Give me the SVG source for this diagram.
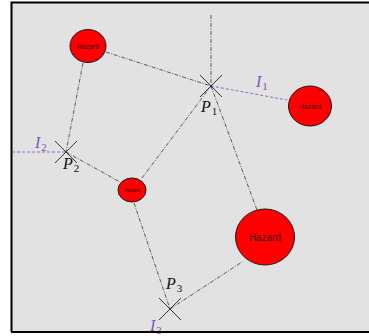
<svg xmlns="http://www.w3.org/2000/svg" width="369" height="336" viewBox="0 0 369 336">
<style>
.hz{fill:#ff0000;stroke:#1a1a1a;stroke-width:1}
.ht{font-family:"Liberation Sans",Arial,sans-serif;fill:#300;text-anchor:middle}
.ln{stroke:#333;stroke-width:0.8;fill:none;stroke-dasharray:4,1.5,1,1.5}
.il{stroke:#8060c0;stroke-width:0.9;fill:none;stroke-dasharray:3,2}
.cr{stroke:#222;stroke-width:0.9}
.pl{font-family:"Liberation Serif","Times New Roman",serif;font-style:italic;fill:#111;font-size:16px}
.plb{font-family:"Liberation Serif","Times New Roman",serif;fill:#111;font-size:11px}
.il-t{font-family:"Liberation Serif","Times New Roman",serif;font-style:italic;fill:#7b55b8;font-size:16px}
.il-s{font-family:"Liberation Serif","Times New Roman",serif;fill:#7b55b8;font-size:11px}
</style>
<rect x="0" y="0" width="369" height="336" fill="#ffffff"/>
<rect x="11" y="2" width="358" height="330" fill="#e2e2e2"/>
<path d="M11.5 332 V2.5 H369" stroke="#000" stroke-width="2" fill="none"/>
<g id="connectors">
<line class="ln" x1="211" y1="15" x2="211" y2="86"/>
<line class="ln" x1="106" y1="52" x2="211" y2="86"/>
<line class="ln" x1="83" y1="63" x2="66" y2="152"/>
<line class="ln" x1="66" y1="152" x2="120" y2="182"/>
<line class="ln" x1="142" y1="178" x2="211" y2="86"/>
<line class="ln" x1="211" y1="86" x2="257" y2="210"/>
<line class="ln" x1="134" y1="203" x2="170" y2="309"/>
<line class="ln" x1="170" y1="309" x2="242" y2="262"/>
<line class="il" x1="211" y1="86" x2="287" y2="100"/>
<line class="il" x1="12" y1="152" x2="66" y2="152"/>
</g>
<g id="hazard1">
<ellipse class="hz" cx="88" cy="46" rx="18" ry="16.5"/>
<text class="ht" x="88" y="48.5" font-size="7">Hazard</text>
</g>
<g id="hazard2">
<ellipse class="hz" cx="310" cy="106" rx="21.5" ry="20"/>
<text class="ht" x="310" y="108.5" font-size="7">Hazard</text>
</g>
<g id="hazard3">
<ellipse class="hz" cx="132" cy="190" rx="14" ry="12"/>
<text class="ht" x="132" y="192" font-size="5">Hazard</text>
</g>
<g id="hazard4">
<ellipse class="hz" cx="265" cy="237" rx="29.5" ry="28"/>
<text class="ht" x="265" y="240.5" font-size="10">Hazard</text>
</g>
<g id="P1">
<line class="cr" x1="200" y1="75" x2="222" y2="97"/>
<line class="cr" x1="222" y1="75" x2="200" y2="97"/>
<text x="201" y="112"><tspan class="pl">P</tspan><tspan class="plb" dx="1" dy="3">1</tspan></text>
<text x="256" y="87"><tspan class="il-t">I</tspan><tspan class="il-s" dx="1" dy="3">1</tspan></text>
</g>
<g id="P2">
<line class="cr" x1="55" y1="141" x2="77" y2="163"/>
<line class="cr" x1="77" y1="141" x2="55" y2="163"/>
<text x="63" y="169"><tspan class="pl">P</tspan><tspan class="plb" dx="1" dy="3">2</tspan></text>
<text x="35" y="148"><tspan class="il-t">I</tspan><tspan class="il-s" dx="1" dy="3">2</tspan></text>
</g>
<g id="P3">
<line class="cr" x1="159" y1="298" x2="181" y2="320"/>
<line class="cr" x1="181" y1="298" x2="159" y2="320"/>
<text x="166" y="289"><tspan class="pl">P</tspan><tspan class="plb" dx="1" dy="3">3</tspan></text>
<text x="150" y="331"><tspan class="il-t">I</tspan><tspan class="il-s" dx="1" dy="3">3</tspan></text>
</g>
<line x1="11" y1="332" x2="369" y2="332" stroke="#000" stroke-width="2"/>
</svg>
